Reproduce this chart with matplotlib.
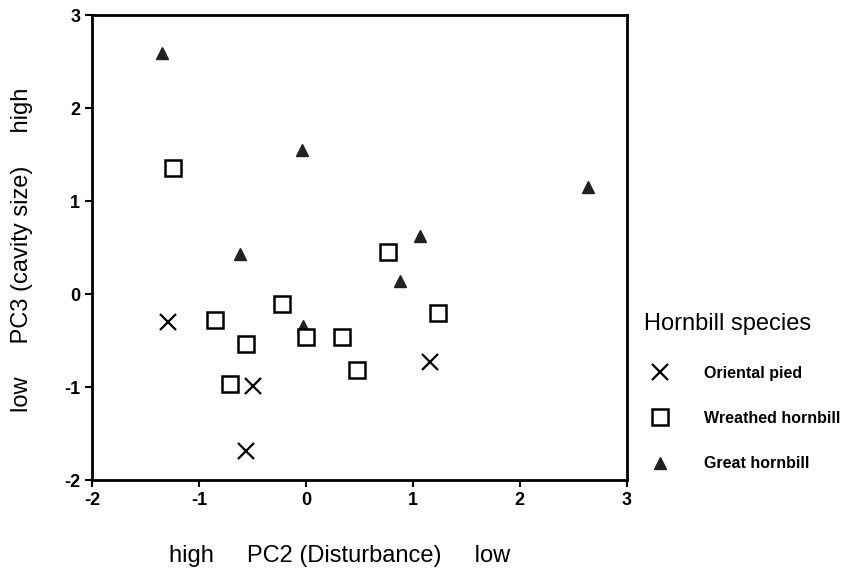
import numpy as np
from matplotlib import pyplot as plt

plt.rcParams['font.family'] = ['Liberation Sans', 'DejaVu Sans']
plt.rcParams['axes.unicode_minus'] = False

# PC2 / PC3 scores
pied_x = [-1.29, -0.49, -0.56, 1.16]
pied_y = [-0.30, -0.99, -1.69, -0.73]

wreathed_x = [-1.24, -0.85, -0.56, -0.71, -0.22, 0.00, 0.34, 0.48, 0.77, 1.24]
wreathed_y = [1.35, -0.28, -0.54, -0.97, -0.11, -0.46, -0.46, -0.82, 0.45, -0.20]

great_x = [-1.35, -0.04, -0.62, -0.03, 1.07, 0.88, 2.64]
great_y = [2.59, 1.55, 0.43, -0.34, 0.62, 0.14, 1.15]

xticks = [-2, -1, 0, 1, 2, 3]
yticks = [-2, -1, 0, 1, 2, 3]

fig = plt.figure(figsize=(8.48, 5.77), dpi=100)
ax = fig.add_axes([0.1085, 0.168, 0.6305, 0.806])

ax.plot(great_x, great_y, linestyle='none', marker='^', ms=9, color='#222222',
        label='Great hornbill', zorder=2)
ax.plot(wreathed_x, wreathed_y, linestyle='none', marker='s', ms=11.5, mfc='white',
        mec='black', mew=1.8, label='Wreathed hornbill', zorder=3)
ax.plot(pied_x, pied_y, linestyle='none', marker='x', ms=11, color='black',
        mew=1.6, label='Oriental pied', zorder=4)

ax.set_xlim(-2, 3)
ax.set_ylim(-2, 3)
ax.set_xticks(xticks)
ax.set_yticks(yticks)
ax.tick_params(direction='out', length=5, width=1.5, labelsize=13)
for lab in ax.get_xticklabels() + ax.get_yticklabels():
    lab.set_fontweight('bold')
for s in ax.spines.values():
    s.set_linewidth(2)

fig.text(0.026, 0.567, 'low     PC3 (cavity size)     high', rotation=90,
         ha='center', va='center', fontsize=17)
fig.text(0.40, 0.036, 'high     PC2 (Disturbance)     low', ha='center',
         va='center', fontsize=17)

handles, labels = ax.get_legend_handles_labels()
leg = ax.legend(handles[::-1], labels[::-1], loc='upper left',
                bbox_to_anchor=(1.005, 0.39), frameon=False, title='Hornbill species',
                title_fontsize=17, prop={'size': 11.5, 'weight': 'bold'},
                labelspacing=1.9, handletextpad=1.8, borderaxespad=0.5)
leg._legend_box.align = 'left'
leg._legend_box.sep = 22

fig.savefig('out.png', dpi=100)
